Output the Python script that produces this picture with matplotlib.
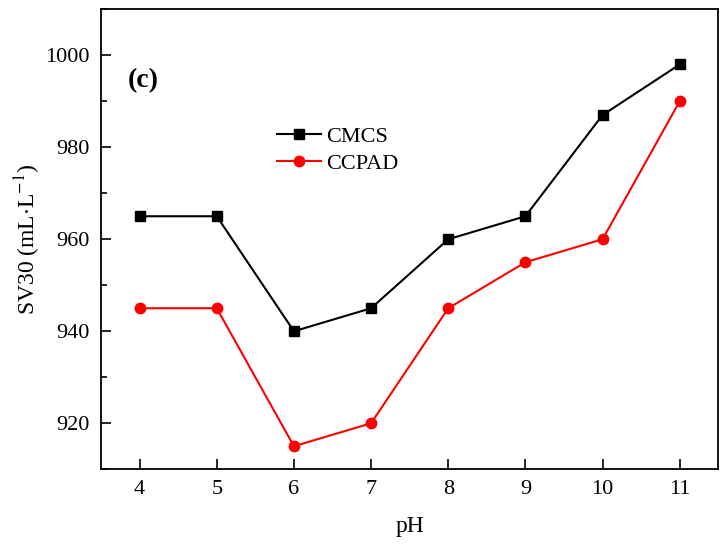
import matplotlib
matplotlib.use('Agg')
import matplotlib.pyplot as plt
from matplotlib.ticker import MultipleLocator

ph = [4, 5, 6, 7, 8, 9, 10, 11]
cmcs = [965, 965, 940, 945, 960, 965, 987, 998]
ccpad = [945, 945, 915, 920, 945, 955, 960, 990]

plt.rcParams['font.family'] = ['Liberation Serif', 'DejaVu Serif']
plt.rcParams['mathtext.fontset'] = 'stix'

fig = plt.figure(figsize=(7.27, 5.45), dpi=100)
ax = fig.add_axes([0.139, 0.139, 0.849, 0.844])

ax.plot(ph, cmcs, color='black', marker='s', markersize=6.5, linewidth=1.5, label='CMCS')
ax.plot(ph, ccpad, color='red', marker='o', markersize=7.5, linewidth=1.5, label='CCPAD')

ax.set_xlim(3.5, 11.5)
ax.set_ylim(910, 1010)
ax.xaxis.set_major_locator(MultipleLocator(1))
ax.yaxis.set_major_locator(MultipleLocator(20))
ax.yaxis.set_minor_locator(MultipleLocator(10))
ax.tick_params(direction='in', which='major', length=7, width=1.2, labelsize=16, pad=8)
ax.tick_params(direction='in', which='minor', length=4, width=1.2)
for s in ax.spines.values():
    s.set_linewidth(1.3)

ax.set_xlabel('pH', fontsize=17, labelpad=12)
ax.set_ylabel(r'SV30 (mL$\cdot$L$^{-1}$)', fontsize=17, labelpad=2)

ax.text(0.044, 0.845, '(c)', transform=ax.transAxes, fontsize=20, fontweight='bold', va='center')

ax.legend(loc='upper left', bbox_to_anchor=(0.27, 0.765), frameon=False, fontsize=16,
          handlelength=2.0, handletextpad=0.25, labelspacing=0.3, borderaxespad=0)

fig.savefig('out.png')
